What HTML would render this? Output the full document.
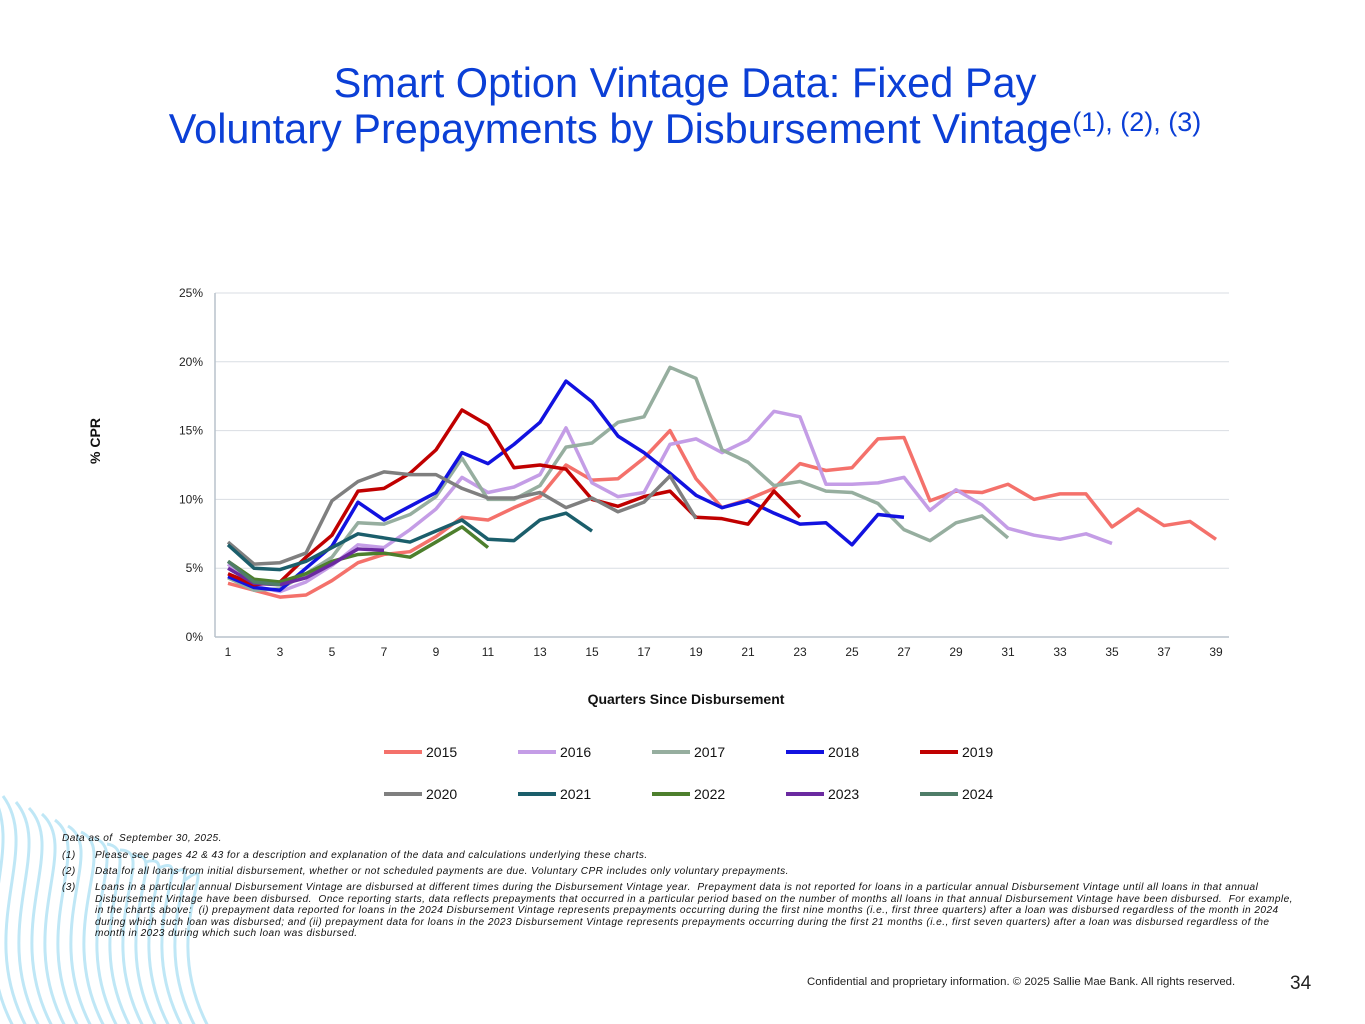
<!DOCTYPE html>
<html><head><meta charset="utf-8">
<style>
body{margin:0;width:1365px;height:1024px;background:#fff;font-family:"Liberation Sans",sans-serif;position:relative;overflow:hidden}
.title{position:absolute;left:0;width:1370px;text-align:center;color:#0b3fd6;font-size:41.5px;line-height:44px}
.fn{position:absolute;font-style:italic;font-size:10.1px;letter-spacing:0.45px;color:#111;line-height:11.6px}
</style></head><body>
<svg style="position:absolute;left:0;top:0" width="1365" height="1024" id="waves"></svg>
<div class="title" style="top:61px">Smart Option Vintage Data: Fixed Pay</div>
<div class="title" style="top:100px">Voluntary Prepayments by Disbursement Vintage<sup style="font-size:27px;vertical-align:12px">(1), (2), (3)</sup></div>
<svg id="chart" style="position:absolute;left:0;top:0" width="1365" height="830"></svg>
<div class="fn" style="left:62px;top:833px">Data as of &nbsp;September 30, 2025.</div>
<div class="fn" style="left:62px;top:850px;width:1240px"><span style="position:absolute;left:0">(1)</span><div style="margin-left:33px">Please see pages 42 &amp; 43 for a description and explanation of the data and calculations underlying these charts.</div></div>
<div class="fn" style="left:62px;top:866px;width:1240px"><span style="position:absolute;left:0">(2)</span><div style="margin-left:33px">Data for all loans from initial disbursement, whether or not scheduled payments are due. Voluntary CPR includes only voluntary prepayments.</div></div>
<div class="fn" style="left:62px;top:882px;width:1240px"><span style="position:absolute;left:0">(3)</span><div style="margin-left:33px;width:1200px">Loans in a particular annual Disbursement Vintage are disbursed at different times during the Disbursement Vintage year.&nbsp; Prepayment data is not reported for loans in a particular annual Disbursement Vintage until all loans in that annual Disbursement Vintage have been disbursed.&nbsp; Once reporting starts, data reflects prepayments that occurred in a particular period based on the number of months all loans in that annual Disbursement Vintage have been disbursed.&nbsp; For example, in the charts above:&nbsp; (i) prepayment data reported for loans in the 2024 Disbursement Vintage represents prepayments occurring during the first nine months (i.e., first three quarters) after a loan was disbursed regardless of the month in 2024 during which such loan was disbursed; and (ii) prepayment data for loans in the 2023 Disbursement Vintage represents prepayments occurring during the first 21 months (i.e., first seven quarters) after a loan was disbursed regardless of the month in 2023 during which such loan was disbursed.</div></div>
<div style="position:absolute;left:807px;top:976px;font-size:11.4px;color:#222">Confidential and proprietary information. © 2025 Sallie Mae Bank. All rights reserved.</div>
<div style="position:absolute;left:1290px;top:973px;font-size:19px;color:#222">34</div>
<script>
const years=["2015","2016","2017","2018","2019","2020","2021","2022","2023","2024"];
const colors=["#f4716b","#c49de6","#96ae9f","#1212e0","#c00000","#7f7f7f","#1b5e6b","#4d7f2d","#6b2aa0","#4f7d68"];
const s2015=[3.9,3.4,2.9,3.05,4.1,5.4,6.0,6.2,7.3,8.7,8.5,9.4,10.2,12.5,11.4,11.5,13.0,15.0,11.5,9.4,10.0,10.8,12.6,12.1,12.3,14.4,14.5,9.9,10.6,10.5,11.1,10.0,10.4,10.4,8.0,9.3,8.1,8.4,7.1];
const s2016=[5.3,3.7,3.3,4.0,5.2,6.7,6.5,7.8,9.3,11.6,10.5,10.9,11.8,15.2,11.2,10.2,10.5,14.0,14.4,13.4,14.3,16.4,16.0,11.1,11.1,11.2,11.6,9.2,10.7,9.6,7.9,7.4,7.1,7.5,6.8];
const s2017=[4.3,3.4,3.5,4.6,5.8,8.3,8.2,8.9,10.2,13.0,10.0,10.0,11.0,13.8,14.1,15.6,16.0,19.6,18.8,13.6,12.7,11.0,11.3,10.6,10.5,9.7,7.8,7.0,8.3,8.8,7.2];
const s2018=[4.4,3.6,3.4,5.0,6.6,9.8,8.5,9.5,10.5,13.4,12.6,14.0,15.6,18.6,17.1,14.6,13.4,11.9,10.3,9.4,9.9,9.0,8.2,8.3,6.7,8.9,8.7];
const s2019=[4.6,3.8,4.0,5.8,7.4,10.6,10.8,11.9,13.6,16.5,15.4,12.3,12.5,12.2,10.0,9.5,10.2,10.6,8.7,8.6,8.2,10.6,8.7];
const s2020=[6.9,5.3,5.4,6.1,9.9,11.3,12.0,11.8,11.8,10.8,10.1,10.1,10.5,9.4,10.1,9.1,9.8,11.7,8.6];
const s2021=[6.7,5.0,4.9,5.5,6.5,7.5,7.2,6.9,7.7,8.5,7.1,7.0,8.5,9.0,7.7];
const s2022=[5.5,4.2,4.0,4.6,5.5,6.0,6.1,5.8,6.9,8.0,6.5];
const s2023=[5.0,3.9,3.8,4.3,5.3,6.4,6.3];
const s2024=[5.5,4.0,3.8];
const series=[s2015,s2016,s2017,s2018,s2019,s2020,s2021,s2022,s2023,s2024];
const yTicks=[0,5,10,15,20,25];
const xTicks=[1,3,5,7,9,11,13,15,17,19,21,23,25,27,29,31,33,35,37,39];
const NS="http://www.w3.org/2000/svg";
const svg=document.getElementById('chart');
const L=215,R=1229,T=293,B=637,nQ=39;
const x=q=>L+(q-0.5)*(R-L)/nQ;
const y=v=>B-v*(B-T)/25;
function mk(t,a){const e=document.createElementNS(NS,t);for(const k in a)e.setAttribute(k,a[k]);svg.appendChild(e);return e;}
yTicks.forEach(v=>{
 if(v>0){const g=mk('line',{x1:L,x2:R,y1:y(v),y2:y(v),stroke:'#d9dde3','stroke-width':1});
 
 }
 const t=mk('text',{x:203,y:y(v)+4,'text-anchor':'end','font-size':12,fill:'#222'});t.textContent=v+'%';
 
 
});
const ax=mk('line',{x1:L,x2:L,y1:T,y2:B,stroke:'#b8c2cc','stroke-width':1.5});


const bx=mk('line',{x1:L,x2:R,y1:B,y2:B,stroke:'#b8c2cc','stroke-width':1.5});


xTicks.forEach(q=>{const t=mk('text',{x:x(q),y:656,'text-anchor':'middle','font-size':12,fill:'#222'});t.textContent=q;
 
 });
const xt=mk('text',{x:686,y:704,'text-anchor':'middle','font-size':14,'font-weight':'bold',fill:'#111'});xt.textContent='Quarters Since Disbursement';


const yt=mk('text',{x:0,y:0,'text-anchor':'middle','font-size':14,'font-weight':'bold',fill:'#111',transform:'translate(100,441) rotate(-90)'});yt.textContent='% CPR';


series.forEach((s,i)=>{
 const p=mk('polyline',{points:s.map((v,j)=>x(j+1)+','+y(v)).join(' '),fill:'none',stroke:colors[i],'stroke-width':3.5,'stroke-linejoin':'round'});
 
 
});
years.forEach((yr,i)=>{
 const lx=384+(i%5)*134, ly=i<5?752:794;
 const l=mk('line',{x1:lx,x2:lx+38,y1:ly,y2:ly,stroke:colors[i],'stroke-width':4});
 
 
 const t=mk('text',{x:lx+42,y:ly+5,'font-size':14,fill:'#111'});t.textContent=yr;
 
 
});
const w=document.getElementById('waves');
for(let k=0;k<16;k++){
 const x0=-10+k*13, e=document.createElementNS(NS,'path');
 e.setAttribute('d',`M${x0} ${790+k*6} C ${x0+40} ${850}, ${x0-30} ${930}, ${x0+25} ${1030}`);
 e.setAttribute('fill','none');e.setAttribute('stroke','#bfe7f6');e.setAttribute('stroke-width','3');
 w.appendChild(e);
}
</script>
</body></html>
